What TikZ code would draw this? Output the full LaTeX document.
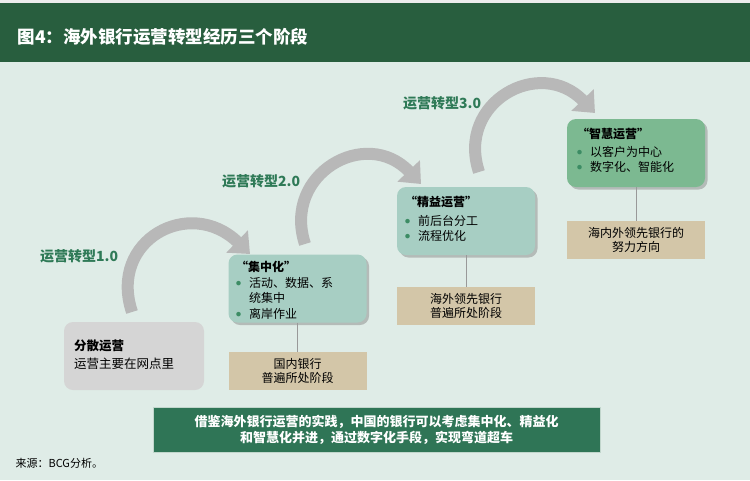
\documentclass[tikz,border=0pt]{standalone}
\usepackage{fontspec}
\setmainfont{Noto Sans CJK SC}
\usetikzlibrary{arrows.meta, shadows, positioning}
\definecolor{titleGreen}{RGB}{40,94,62}
\definecolor{bgMint}{RGB}{223,236,231}
\definecolor{stageTeal}{RGB}{167,206,195}
\definecolor{stageGreen}{RGB}{124,185,145}
\definecolor{tanColor}{RGB}{211,198,168}
\definecolor{grayBox}{RGB}{213,213,213}
\definecolor{labelGreen}{RGB}{47,122,87}
\definecolor{dotGreen}{RGB}{60,140,100}
\definecolor{noteGreen}{RGB}{47,117,86}
\definecolor{arrowGray}{RGB}{184,184,184}
\newcommand{\stageitem}{\makebox[13pt][l]{\raisebox{2.5pt}{\textcolor{dotGreen}{\fontsize{5}{5}\selectfont ●}}}}

\begin{document}
\begin{tikzpicture}[x=1pt, y=-1pt,
    stage/.style={rectangle, rounded corners=9pt, minimum width=138pt, minimum height=68pt, fill=stageTeal,
        drop shadow={opacity=0.45, shadow xshift=2.5pt, shadow yshift=-2.5pt}},
    stagetext/.style={anchor=north west, align=left, inner sep=0pt, font=\fontsize{12}{15}\selectfont},
    tanbox/.style={rectangle, minimum width=138pt, minimum height=38pt, fill=tanColor, align=center,
        font=\fontsize{12}{14}\selectfont},
    phase/.style={anchor=west, inner sep=0pt, text=labelGreen, font=\fontsize{14}{16}\selectfont\bfseries},
    link/.style={draw=gray!80, line width=0.8pt},
    bigarrow/.style={draw=arrowGray, line width=12pt, -{Triangle[width=30pt,length=18pt]}}
]
    \useasboundingbox (0,0) rectangle (750,480);

    % Background and title
    \fill[bgMint] (0,0) rectangle (750,480);
    \fill[gray!15] (0,0) rectangle (750,3);
    \fill[titleGreen] (0,3) rectangle (750,62);
    \node[anchor=west, text=white, font=\fontsize{17.5}{19}\selectfont\bfseries] (title) at (14,37)
        {图4：海外银行运营转型经历三个阶段};

    % Curved arrows
    \coordinate (a1s) at (132,312);
    \coordinate (a1e) at (250,254);
    \coordinate (a2s) at (305,244);
    \coordinate (a2e) at (421,184);
    \coordinate (a3s) at (479,172);
    \coordinate (a3e) at (595,113);
    \draw[bigarrow] (a1s) .. controls (108,240) and (190,196) .. (a1e);
    \draw[bigarrow] (a2s) .. controls (282,174) and (366,126) .. (a2e);
    \draw[bigarrow] (a3s) .. controls (456,102) and (540,56) .. (a3e);

    % Phase labels
    \node[phase] (p1) at (40,256) {运营转型1.0};
    \node[phase] (p2) at (222,181) {运营转型2.0};
    \node[phase] (p3) at (403,103) {运营转型3.0};

    % Starting point
    \node[rectangle, rounded corners=9pt, minimum width=140pt, minimum height=68pt, fill=grayBox] (start) at (134,356) {};
    \node[stagetext, font=\fontsize{12.5}{18}\selectfont] (starttext) at (74,340) {\textbf{分散运营}\\运营主要在网点里};

    % Stages
    \node[stage] (central) at (297.5,288.5) {};
    \node[stage] (lean) at (466,221) {};
    \node[stage, fill=stageGreen] (smart) at (636,153) {};
    \node[stagetext] (centraltext) at (236,261)
        {\textbf{“集中化”}\\[1pt]\stageitem 活动、数据、系\\\hspace{13pt}统集中\\[1pt]\stageitem 离岸作业};
    \node[stagetext] (leantext) at (405,196)
        {\textbf{“精益运营”}\\[4pt]\stageitem 前后台分工\\\stageitem 流程优化};
    \node[stagetext] (smarttext) at (577,128)
        {\textbf{“智慧运营”}\\[3pt]\stageitem 以客户为中心\\\stageitem 数字化、智能化};

    % Where banks stand
    \node[tanbox] (domestic) at (297.5,371) {国内银行\\普遍所处阶段};
    \node[tanbox] (overseas) at (466,306) {海外领先银行\\普遍所处阶段};
    \node[tanbox] (leaders) at (636,240) {海内外领先银行的\\努力方向};
    \draw[link] (central) -- (domestic);
    \draw[link] (lean) -- (overseas);
    \draw[link] (smart) -- (leaders);

    % Conclusion
    \node[rectangle, draw=white!70!noteGreen, fill=noteGreen, minimum width=447pt, minimum height=45pt,
        align=center, text=white, font=\fontsize{13}{16}\selectfont\bfseries] (note) at (376.5,429.5)
        {借鉴海外银行运营的实践，中国的银行可以考虑集中化、精益化\\和智慧化并进，通过数字化手段，实现弯道超车};
    \node[anchor=west, font=\fontsize{11}{12}\selectfont] (source) at (12,463) {来源：BCG分析。};
\end{tikzpicture}
\end{document}
